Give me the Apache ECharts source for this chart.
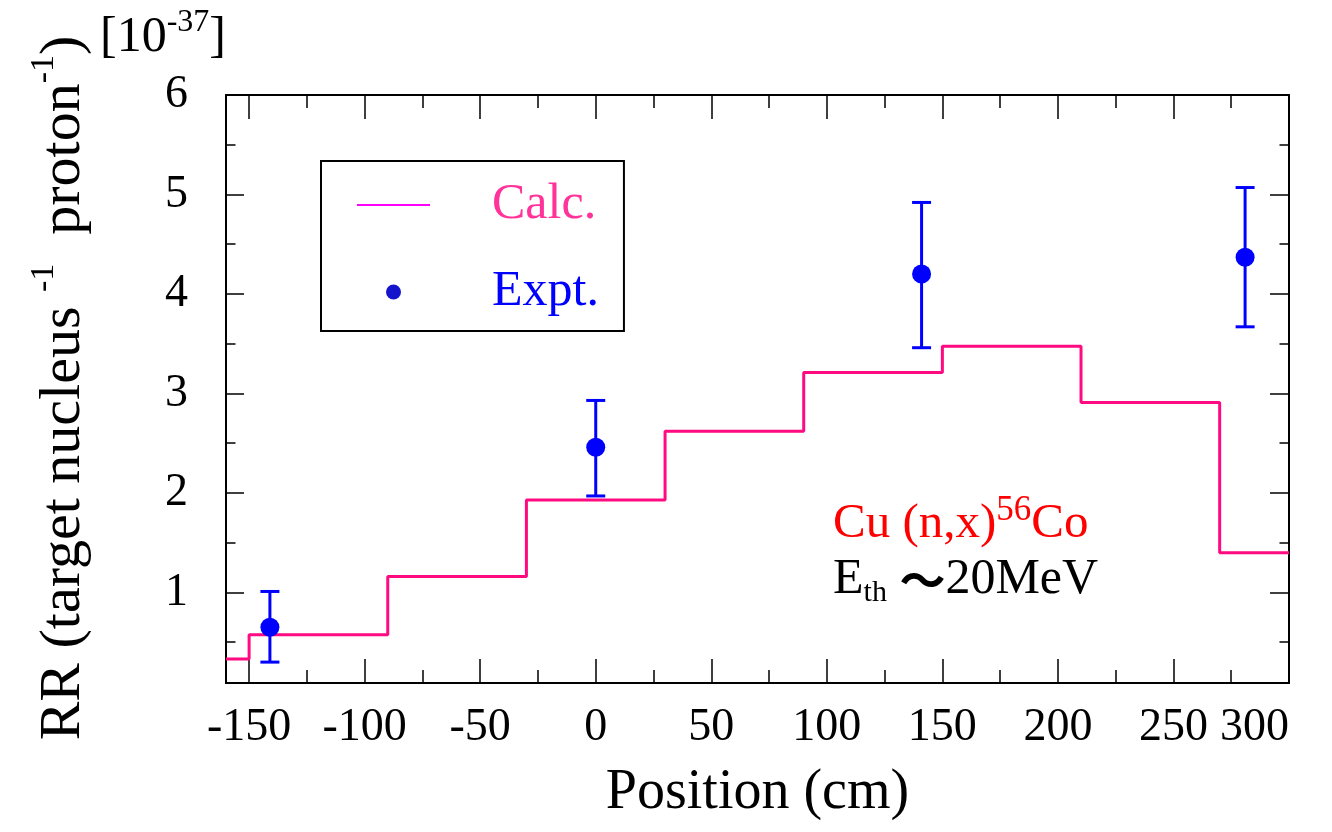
<!DOCTYPE html>
<html>
<head>
<meta charset="utf-8">
<script src="https://cdn.jsdelivr.net/npm/echarts@6/dist/echarts.min.js"></script>
<style>
html,body{margin:0;padding:0;background:#fff;}
#chart{width:1332px;height:832px;}
</style>
</head>
<body>
<div id="chart"></div>
<script>
// ---- data ----
const xMajorTicks = [-150, -100, -50, 0, 50, 100, 150, 200, 250, 300];
const xMinorTicks = [-125, -75, -25, 25, 75, 125, 175, 225, 275];
const yMajorTicks = [1, 2, 3, 4, 5, 6];
const yMinorTicks = [0.5, 1.5, 2.5, 3.5, 4.5, 5.5];

// Calc. histogram: bin edges and values (step 'end')
const calcEdges  = [-160, -150, -90, -30, 30, 90, 150, 210, 270, 300];
const calcValues = [0.33, 0.575, 1.16, 1.93, 2.62, 3.21, 3.475, 2.91, 1.40, 1.40];

// Expt. points with error bars
const exptX    = [-141, 0, 141, 281];
const exptY    = [0.65, 2.46, 4.20, 4.37];
const exptLow  = [0.30, 1.97, 3.46, 3.67];
const exptHigh = [1.01, 2.93, 4.92, 5.07];

// ---- chart ----
const FONT = '"Liberation Serif", "Times New Roman", serif';
const X_MIN = -160, X_MAX = 300, Y_MIN = 0.09, Y_MAX = 6;

function xAx(position, ticks, len, withLabel) {
  const a = {
    type: 'value', position: position, min: X_MIN, max: X_MAX,
    axisLine: { show: true, onZero: false, lineStyle: { color: '#000', width: 2 } },
    axisTick: { show: true, inside: true, length: len, customValues: ticks, lineStyle: { color: '#000', width: 1.5 } },
    axisLabel: { show: false },
    splitLine: { show: false }
  };
  if (withLabel) {
    a.axisLabel = {
      show: true, customValues: ticks, margin: 22, color: '#000',
      fontFamily: FONT, fontSize: 46, showMaxLabel: true, showMinLabel: true,
      alignMaxLabel: 'right'
    };
    a.name = 'Position (cm)';
    a.nameLocation = 'middle';
    a.nameGap = 82;
    a.nameTextStyle = { fontFamily: FONT, fontSize: 56, color: '#000' };
  }
  return a;
}

function yAx(position, ticks, len, withLabel) {
  const a = {
    type: 'value', position: position, min: Y_MIN, max: Y_MAX,
    axisLine: { show: true, onZero: false, lineStyle: { color: '#000', width: 2 } },
    axisTick: { show: true, inside: true, length: len, customValues: ticks, lineStyle: { color: '#000', width: 1.5 } },
    axisLabel: { show: false },
    splitLine: { show: false }
  };
  if (withLabel) {
    a.axisLabel = {
      show: true, customValues: ticks, margin: 38, color: '#000',
      fontFamily: FONT, fontSize: 46, showMaxLabel: true, showMinLabel: true
    };
  }
  return a;
}

const chart = echarts.init(document.getElementById('chart'), null, { renderer: 'canvas' });

const option = {
  backgroundColor: '#fff',
  animation: false,
  grid: { left: 226, right: 43, top: 95, bottom: 149, containLabel: false, outerBoundsMode: 'none' },
  xAxis: [
    xAx('bottom', xMajorTicks, 24, true),
    xAx('bottom', xMinorTicks, 13, false),
    xAx('top', xMajorTicks, 24, false),
    xAx('top', xMinorTicks, 13, false)
  ],
  yAxis: [
    yAx('left', yMajorTicks, 18, true),
    yAx('left', yMinorTicks, 9.5, false),
    yAx('right', yMajorTicks, 19, false),
    yAx('right', yMinorTicks, 9.5, false)
  ],
  legend: {
    orient: 'vertical', left: 321, top: 161,
    padding: [19, 25, 14, 36],
    itemGap: 37, itemWidth: 73, itemHeight: 15,
    borderColor: '#000', borderWidth: 2, backgroundColor: '#fff',
    selectedMode: false,
    textStyle: { fontFamily: FONT, fontSize: 50, padding: [0, 0, 0, 57] },
    data: [
      { name: 'Calc.', icon: 'path://M0,0H100V2.6H0Z',
        textStyle: { color: '#ff3399', fontFamily: FONT, fontSize: 50, padding: [0, 0, 0, 57] },
        itemStyle: { color: '#ff00ff', borderWidth: 0 } },
      { name: 'Expt.', icon: 'circle',
        textStyle: { color: '#0000ff', fontFamily: FONT, fontSize: 50, padding: [0, 0, 0, 57] },
        itemStyle: { color: '#1414cc', borderWidth: 0 } }
    ]
  },
  graphic: [
    {
      type: 'text', x: 60, y: 388, rotation: Math.PI / 2,
      style: {
        text: '{m|RR (target nucleus }{s|-1}{m|  proton}{s|-1}{m|)}',
        align: 'center', verticalAlign: 'middle',
        rich: {
          m: { fontFamily: FONT, fontSize: 58, lineHeight: 66, fill: '#000', verticalAlign: 'bottom' },
          s: { fontFamily: FONT, fontSize: 34, lineHeight: 34, fill: '#000', verticalAlign: 'top' }
        }
      }
    },
    {
      type: 'text', x: 100, y: 35,
      style: {
        text: '{m|[10}{s|-37}{m|]}',
        verticalAlign: 'middle', align: 'left',
        rich: {
          m: { fontFamily: FONT, fontSize: 50, lineHeight: 56, fill: '#000', verticalAlign: 'bottom' },
          s: { fontFamily: FONT, fontSize: 32, lineHeight: 32, fill: '#000', verticalAlign: 'top' }
        }
      }
    },
    {
      type: 'text', x: 833, y: 521,
      style: {
        text: '{m|Cu (n,x)}{s|56}{m|Co}',
        verticalAlign: 'middle', align: 'left',
        rich: {
          m: { fontFamily: FONT, fontSize: 49, lineHeight: 56, fill: '#ff0000', verticalAlign: 'bottom' },
          s: { fontFamily: FONT, fontSize: 35, lineHeight: 35, fill: '#ff0000', verticalAlign: 'top' }
        }
      }
    },
    {
      type: 'text', x: 833, y: 580,
      style: {
        text: '{m|E}{s|th}{m| }{t|\uFF5E}{m|20MeV}',
        verticalAlign: 'middle', align: 'left',
        rich: {
          m: { fontFamily: FONT, fontSize: 50, lineHeight: 56, fill: '#000', verticalAlign: 'middle' },
          s: { fontFamily: FONT, fontSize: 30, lineHeight: 22, fill: '#000', verticalAlign: 'bottom' },
          t: { fontFamily: '"Noto Sans CJK JP", "DejaVu Sans", sans-serif', fontSize: 46, lineHeight: 56, fill: '#000', verticalAlign: 'middle', fontWeight: 'bold' }
        }
      }
    }
  ],
  series: [
    {
      name: 'Calc.', type: 'line', step: 'end',
      xAxisIndex: 0, yAxisIndex: 0,
      symbol: 'none', showSymbol: false,
      lineStyle: { color: '#ff0a80', width: 3 },
      itemStyle: { color: '#ff00ff' },
      data: calcEdges.map((x, i) => [x, calcValues[i]]),
      z: 2
    },
    {
      name: 'ExptErr', type: 'custom',
      xAxisIndex: 0, yAxisIndex: 0,
      encode: { x: 0, y: [1, 2] },
      data: exptX.map((x, i) => [x, exptLow[i], exptHigh[i]]),
      renderItem: function (params, api) {
        const x = api.value(0);
        const pLo = api.coord([x, api.value(1)]);
        const pHi = api.coord([x, api.value(2)]);
        const cap = 9.5;
        const st = { stroke: '#0000ff', lineWidth: 3 };
        return {
          type: 'group',
          children: [
            { type: 'line', shape: { x1: pLo[0], y1: pLo[1], x2: pHi[0], y2: pHi[1] }, style: st },
            { type: 'line', shape: { x1: pLo[0] - cap, y1: pLo[1], x2: pLo[0] + cap, y2: pLo[1] }, style: st },
            { type: 'line', shape: { x1: pHi[0] - cap, y1: pHi[1], x2: pHi[0] + cap, y2: pHi[1] }, style: st }
          ]
        };
      },
      z: 3
    },
    {
      name: 'Expt.', type: 'scatter',
      xAxisIndex: 0, yAxisIndex: 0,
      symbol: 'circle', symbolSize: 19,
      itemStyle: { color: '#0000ff', opacity: 1 },
      data: exptX.map((x, i) => [x, exptY[i]]),
      z: 4
    }
  ]
};
chart.setOption(option);
</script>
</body>
</html>
